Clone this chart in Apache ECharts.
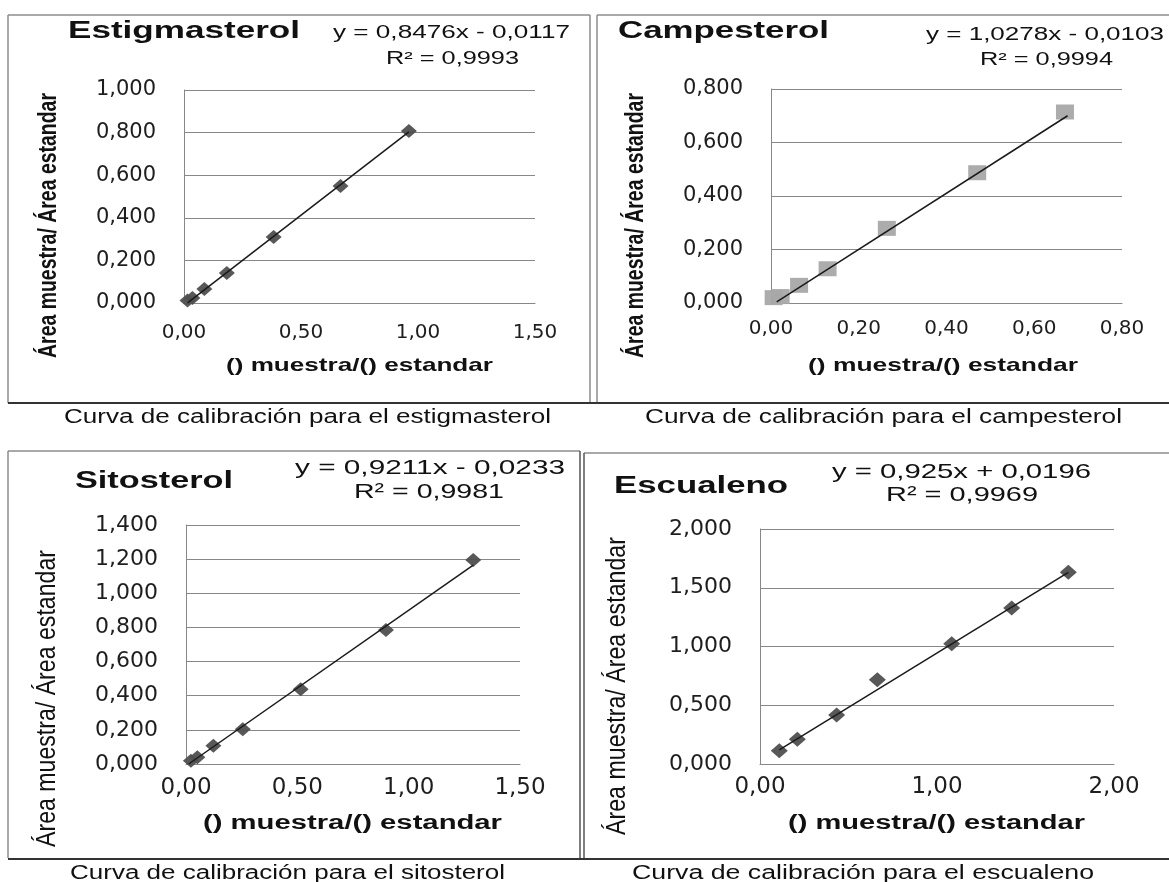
<!DOCTYPE html>
<html><head><meta charset="utf-8">
<script src="https://cdn.jsdelivr.net/npm/echarts@6/dist/echarts.min.js"></script>
<style>html,body{margin:0;padding:0;background:#fff}#c{width:1169px;height:882px}</style>
</head><body><div id="c"></div>
<script>
// ---------------- DATA ----------------
const estigX = [0.015, 0.036, 0.087, 0.183, 0.383, 0.669, 0.961];
const estigY = [0.012, 0.024, 0.066, 0.141, 0.310, 0.549, 0.807];
const estigTrendX = [0.015, 0.961];
const estigTrendY = [0.001, 0.803];

const campX = [0.006, 0.022, 0.064, 0.129, 0.264, 0.470, 0.670];
const campY = [0.020, 0.024, 0.066, 0.128, 0.279, 0.487, 0.714];
const campTrendX = [0.013, 0.676];
const campTrendY = [0.004, 0.700];

const sitoX = [0.022, 0.051, 0.123, 0.255, 0.515, 0.898, 1.290];
const sitoY = [0.019, 0.039, 0.107, 0.203, 0.438, 0.785, 1.195];
const sitoTrendX = [0.012, 1.290];
const sitoTrendY = [0.000, 1.165];

const escX = [0.109, 0.211, 0.433, 0.663, 1.083, 1.422, 1.742];
const escY = [0.113, 0.211, 0.418, 0.716, 1.023, 1.327, 1.631];
const escTrendX = [0.109, 1.742];
const escTrendY = [0.120, 1.631];

const yTicksEstig = ['0,000','0,200','0,400','0,600','0,800','1,000'];
const xTicksEstig = ['0,00','0,50','1,00','1,50'];
const yTicksCamp = ['0,000','0,200','0,400','0,600','0,800'];
const xTicksCamp = ['0,00','0,20','0,40','0,60','0,80'];
const yTicksSito = ['0,000','0,200','0,400','0,600','0,800','1,000','1,200','1,400'];
const xTicksSito = ['0,00','0,50','1,00','1,50'];
const yTicksEsc = ['0,000','0,500','1,000','1,500','2,000'];
const xTicksEsc = ['0,00','1,00','2,00'];

// ---------------- HELPERS ----------------
const FAM = '"Liberation Sans", Arial, sans-serif';
const mctx = document.createElement('canvas').getContext('2d');
function measure(t, size, weight) {
  mctx.font = (weight || 'normal') + ' ' + size + 'px ' + FAM;
  return mctx.measureText(t).width;
}
function htext(t, x1, x2, y, size, weight, color) {
  const w = measure(t, size, weight);
  return { type: 'text', x: x1, y: y, scaleX: (x2 - x1) / w, silent: true,
    style: { text: t, x: 0, y: 0, fontSize: size, fontFamily: FAM, fontWeight: weight || 'normal',
      fill: color || '#111', align: 'left', verticalAlign: 'middle' } };
}
function vtext(t, xc, y1, y2, size, thick, weight) {
  const w = measure(t, size, weight);
  return { type: 'text', x: xc, y: y2, rotation: Math.PI / 2, scaleX: (y2 - y1) / w, scaleY: thick, silent: true,
    style: { text: t, x: 0, y: 0, fontSize: size, fontFamily: FAM, fontWeight: weight || 'normal',
      fill: '#111', align: 'left', verticalAlign: 'middle' } };
}
function line(x1, y1, x2, y2, color, w) {
  return { type: 'line', silent: true, shape: { x1, y1, x2, y2 }, style: { stroke: color, lineWidth: w } };
}
function zip(a, b) { return a.map((v, i) => [v, b[i]]); }

const TICKFONT = '"DejaVu Sans", Verdana, sans-serif';
const GRIDCOL = '#878787';
function xAxisDef(gi, min, max, interval, ticks, size, margin) {
  return { type: 'value', gridIndex: gi, min, max, interval,
    axisLine: { show: true, lineStyle: { color: GRIDCOL, width: 1 } },
    axisTick: { show: false }, splitLine: { show: false },
    axisLabel: { color: '#1e1e1e', fontSize: size, fontFamily: TICKFONT, margin,
      formatter: v => ticks[Math.round((v - min) / interval)] } };
}
function yAxisDef(gi, min, max, interval, ticks, size, margin) {
  return { type: 'value', gridIndex: gi, min, max, interval,
    axisLine: { show: true, onZero: false, lineStyle: { color: GRIDCOL, width: 1 } },
    axisTick: { show: false },
    splitLine: { show: true, lineStyle: { color: GRIDCOL, width: 1 } },
    axisLabel: { color: '#1e1e1e', fontSize: size, fontFamily: TICKFONT, margin,
      formatter: v => ticks[Math.round((v - min) / interval)] } };
}
function scat(i, data, sym, size, color) {
  return { type: 'scatter', xAxisIndex: i, yAxisIndex: i, data, symbol: sym, symbolSize: size,
    itemStyle: { color, opacity: 0.95 }, z: 2 };
}
function trend(i, data) {
  return { type: 'line', xAxisIndex: i, yAxisIndex: i, data, symbol: 'none', z: 3,
    lineStyle: { color: '#1a1a1a', width: 1.5 } };
}

// ---------------- GRAPHICS (boxes, titles, captions) ----------------
const BOX = '#8c8c8c';
const graphics = [
  // panel boxes
  line(8, 15, 590, 15, BOX, 1.5), line(8, 15, 8, 403, BOX, 1.5), line(590, 15, 590, 403, BOX, 1.5),
  line(597, 15, 1169, 15, BOX, 1.5), line(597, 15, 597, 403, BOX, 1.5),
  line(8, 403, 1169, 403, '#333', 2),
  line(8, 451, 580, 451, BOX, 1.5), line(8, 451, 8, 858, BOX, 1.5), line(580, 451, 580, 858, '#555', 1.5),
  line(584, 453, 1169, 453, BOX, 1.5), line(584, 453, 584, 858, '#555', 1.5),
  line(8, 859, 1169, 859, '#333', 2),

  // panel 1
  htext('Estigmasterol', 68, 300, 32, 23, 'bold'),
  htext('y = 0,8476x - 0,0117', 333, 570, 33, 18),
  htext('R² = 0,9993', 386, 519, 59, 18),
  htext('() muestra/() estandar', 226, 493, 366, 19, 'bold'),
  vtext('Área muestra/ Área estandar', 49, 93, 358, 19, 1.4, 'bold'),
  htext('Curva de calibración para el estigmasterol', 64, 551, 417, 20),
  // panel 2
  htext('Campesterol', 618, 829, 32, 23, 'bold'),
  htext('y = 1,0278x - 0,0103', 926, 1164, 35, 18),
  htext('R² = 0,9994', 980, 1113, 60, 18),
  htext('() muestra/() estandar', 808, 1078, 366, 19, 'bold'),
  vtext('Área muestra/ Área estandar', 636, 93, 358, 19, 1.4, 'bold'),
  htext('Curva de calibración para el campesterol', 645, 1122, 417, 20),
  // panel 3
  htext('Sitosterol', 75, 233, 482, 23, 'bold'),
  htext('y = 0,9211x - 0,0233', 295, 565, 468, 21),
  htext('R² = 0,9981', 354, 504, 492, 21),
  htext('() muestra/() estandar', 203, 502, 823, 20, 'bold'),
  vtext('Área muestra/ Área estandar', 47, 550, 847, 21, 1.35),
  htext('Curva de calibración para el sitosterol', 70, 505, 873, 20),
  // panel 4
  htext('Escualeno', 614, 788, 487, 23, 'bold'),
  htext('y = 0,925x + 0,0196', 832, 1091, 472, 21),
  htext('R² = 0,9969', 886, 1038, 495, 21),
  htext('() muestra/() estandar', 788, 1085, 823, 20, 'bold'),
  vtext('Área muestra/ Área estandar', 617, 537, 835, 21, 1.35),
  htext('Curva de calibración para el escualeno', 632, 1094, 873, 20),
];

const chart = echarts.init(document.getElementById('c'), null, { renderer: 'canvas' });
chart.setOption({
  backgroundColor: '#ffffff',
  animation: false,
  grid: [
    { left: 184, top: 90, width: 351, height: 213 },
    { left: 771, top: 89, width: 351, height: 214 },
    { left: 186, top: 525, width: 334, height: 239 },
    { left: 760, top: 529, width: 354, height: 235 }
  ],
  xAxis: [
    xAxisDef(0, 0, 1.5, 0.5, xTicksEstig, 20, 20),
    xAxisDef(1, 0, 0.8, 0.2, xTicksCamp, 20, 16),
    xAxisDef(2, 0, 1.5, 0.5, xTicksSito, 23, 13),
    xAxisDef(3, 0, 2, 1, xTicksEsc, 23, 12)
  ],
  yAxis: [
    yAxisDef(0, 0, 1, 0.2, yTicksEstig, 21, 28),
    yAxisDef(1, 0, 0.8, 0.2, yTicksCamp, 21, 28),
    yAxisDef(2, 0, 1.4, 0.2, yTicksSito, 22, 28),
    yAxisDef(3, 0, 2, 0.5, yTicksEsc, 22, 28)
  ],
  series: [
    scat(0, zip(estigX, estigY), 'diamond', [16, 14], '#4f4f4f'),
    trend(0, zip(estigTrendX, estigTrendY)),
    scat(1, zip(campX, campY), 'rect', [18, 15], '#a8a8a8'),
    trend(1, zip(campTrendX, campTrendY)),
    scat(2, zip(sitoX, sitoY), 'diamond', [16, 14], '#4f4f4f'),
    trend(2, zip(sitoTrendX, sitoTrendY)),
    scat(3, zip(escX, escY), 'diamond', [17, 15], '#4f4f4f'),
    trend(3, zip(escTrendX, escTrendY))
  ],
  graphic: { elements: graphics }
});
</script>
</body></html>
